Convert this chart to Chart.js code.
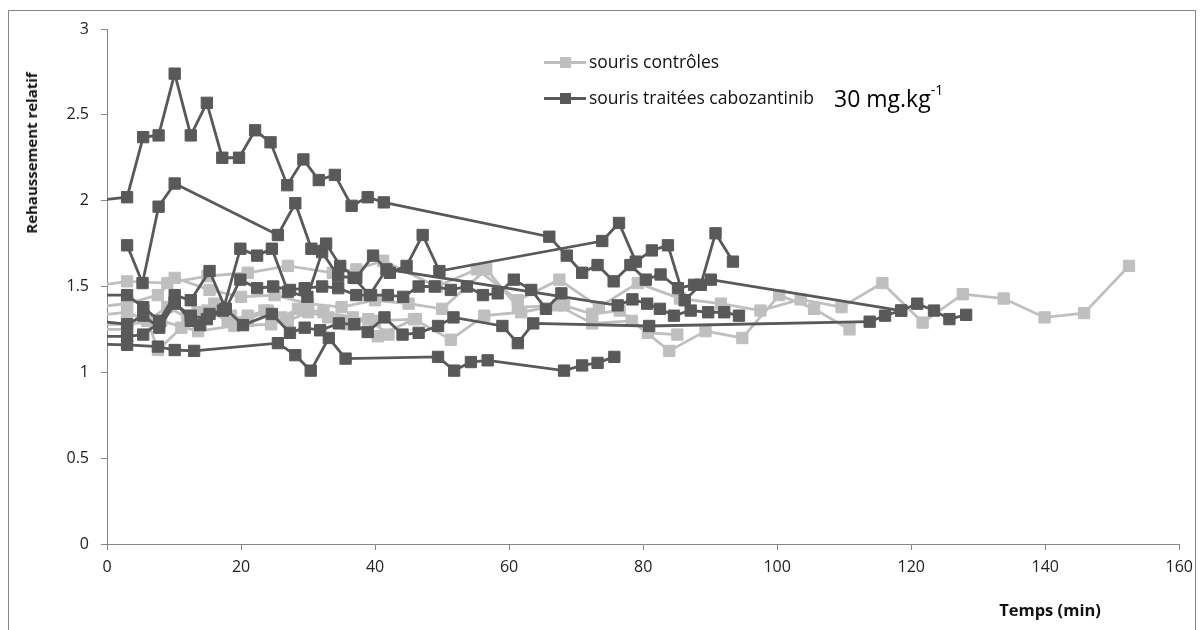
<!DOCTYPE html>
<html><head><meta charset="utf-8">
<script src="https://cdn.jsdelivr.net/npm/chart.js@4.4.1/dist/chart.umd.min.js"></script>
<style>
html,body{margin:0;padding:0;background:#fff;}
#wrap{position:relative;width:1201px;height:630px;overflow:hidden;background:#fff;}
#frame{position:absolute;left:8px;top:10px;width:1188px;height:660px;border:1px solid #868686;box-sizing:border-box;}
#c{position:absolute;left:0;top:0;}
.lg{position:absolute;font-family:"Open Sans",sans-serif;font-size:17.5px;color:#111;white-space:nowrap;line-height:1;}
.lgl{position:absolute;height:3px;width:42px;}
.lgm{position:absolute;width:11px;height:11px;}
#ytitle{position:absolute;left:31px;top:153px;transform:translate(-50%,-50%) rotate(-90deg);font-family:"Open Sans",sans-serif;font-weight:bold;font-size:15px;color:#111;white-space:nowrap;}
#xtitle{position:absolute;left:1050px;top:609px;transform:translate(-50%,-50%);font-family:"Open Sans",sans-serif;font-weight:bold;font-size:16.5px;color:#111;white-space:nowrap;}
#dose{position:absolute;left:834px;top:85px;font-family:"Open Sans",sans-serif;font-size:23px;color:#000;white-space:nowrap;line-height:1.2;}
#dose sup{font-size:14px;vertical-align:top;position:relative;top:-3px;}
</style></head>
<body>
<div id="wrap">
  <div id="frame"></div>
  <canvas id="c" width="1201" height="630"></canvas>
  <div class="lgl" style="left:544px;top:61px;background:#BFBFBF"></div>
  <div class="lgm" style="left:560px;top:57px;background:#BFBFBF"></div>
  <div class="lg" style="left:589px;top:53px;">souris contrôles</div>
  <div class="lgl" style="left:544px;top:97px;background:#595959"></div>
  <div class="lgm" style="left:560px;top:93px;background:#595959"></div>
  <div class="lg" style="left:589px;top:89px;">souris traitées cabozantinib</div>
  <div id="dose">30 mg.kg<sup>-1</sup></div>
  <div id="ytitle">Rehaussement relatif</div>
  <div id="xtitle">Temps (min)</div>
</div>
<script>
// ---- tick labels ----
const xTickLabels = ['0','20','40','60','80','100','120','140','160'];
const yTickLabels = ['0','0.5','1','1.5','2','2.5','3'];

// ---- treated mice (cabozantinib 30 mg/kg) ----
const t_d1 = [-2,3.0,5.4,7.7,10.1,12.5,14.9,17.2,19.7,22.1,24.4,26.9,29.3,31.6,34.0,36.5,38.9,41.3,66.0,68.6,70.9,73.2,75.6,78.1,80.4,82.6,85.2,87.6,90.1,118.5];
const v_d1 = [2.00,2.02,2.37,2.38,2.74,2.38,2.57,2.25,2.25,2.41,2.34,2.09,2.24,2.12,2.15,1.97,2.02,1.99,1.79,1.68,1.58,1.625,1.53,1.625,1.54,1.57,1.49,1.51,1.54,1.36];

const t_d2 = [3.0,5.3,7.7,10.1,25.5,28.1,30.5,32.7,34.8,37.2,39.7,42.2,44.7,47.1,49.6,73.9,76.4,78.9,81.3,83.7,86.2,88.6,90.8,93.4];
const v_d2 = [1.74,1.52,1.965,2.10,1.80,1.985,1.72,1.75,1.62,1.55,1.68,1.58,1.62,1.80,1.59,1.765,1.87,1.645,1.71,1.74,1.42,1.51,1.81,1.645];

const t_d3 = [-2,3.0,5.4,7.8,10.1,12.5,15.3,17.7,19.9,22.4,24.8,27.3,29.5,32.1,34.5,37.2,39.4,41.9,44.2,46.5,48.9,51.3,53.7,56.1,58.3,60.7,63.3,65.5,67.8];
const v_d3 = [1.45,1.45,1.38,1.30,1.45,1.42,1.59,1.37,1.54,1.49,1.50,1.48,1.49,1.50,1.49,1.45,1.45,1.45,1.44,1.50,1.50,1.48,1.50,1.45,1.46,1.54,1.48,1.37,1.46];

const t_d4 = [-2,3.0,5.4,7.8,10.1,12.5,13.9,15.3,17.7,20.3,24.6,27.3,29.5,31.8,34.6,36.9,38.9,41.4,44.1,46.5,49.4,51.7,59.0,61.3,63.6,80.9,113.8,116.1,118.5,120.9,123.4,125.7,128.2];
const v_d4 = [1.21,1.21,1.22,1.29,1.41,1.30,1.275,1.34,1.37,1.275,1.34,1.23,1.26,1.245,1.285,1.28,1.235,1.32,1.22,1.23,1.27,1.32,1.27,1.17,1.285,1.27,1.295,1.33,1.36,1.40,1.36,1.31,1.335];

const t_d5 = [-2,3.0,5.4,7.8,10.1,12.5,14.9,17.3,19.9,22.4,24.6,27.0,29.9,32.1,34.5,36.8,39.2,41.7,76.2,78.4,80.6,82.5,84.6,87.1,89.7,92.1,94.3];
const v_d5 = [1.30,1.28,1.33,1.26,1.40,1.33,1.31,1.36,1.72,1.68,1.72,1.47,1.44,1.70,1.56,1.55,1.45,1.60,1.39,1.425,1.40,1.37,1.33,1.36,1.35,1.35,1.33];

const t_d6 = [-2,3.0,7.6,10.1,13.0,25.5,28.1,30.4,33.1,35.6,49.4,51.8,54.3,56.8,68.2,70.9,73.2,75.7];
const v_d6 = [1.165,1.16,1.15,1.13,1.125,1.17,1.10,1.01,1.20,1.08,1.09,1.01,1.06,1.07,1.01,1.04,1.055,1.09];

// ---- control mice ----
const t_c1 = [-2,3.0,9.0,15.0,21.0,27.0,33.7,37.2,41.2,49.2,55.2,61.3,67.5,73.4,79.2,85.5,91.6,97.5,103.5,109.6,115.7,121.7,127.7,133.8,139.9,145.8,152.5];
const v_c1 = [1.50,1.53,1.52,1.56,1.58,1.62,1.58,1.60,1.65,1.50,1.60,1.42,1.54,1.38,1.52,1.43,1.40,1.36,1.425,1.38,1.52,1.29,1.455,1.43,1.32,1.345,1.62];

const t_c2 = [-2,3.0,8.1,13.6,19.0,24.5,29.4,34.9,40.4,45.8,51.3,56.3,61.8,67.3,72.4,78.3,83.9,89.3,94.8,100.3,105.5,110.8];
const v_c2 = [1.28,1.28,1.30,1.24,1.27,1.28,1.37,1.30,1.21,1.31,1.19,1.33,1.35,1.39,1.285,1.30,1.125,1.24,1.20,1.45,1.37,1.25];

const t_c3 = [-2,3.0,5.5,7.6,11.1,13.5,16.0,18.5,21.0,23.5,26.0,28.5,32.3,36.7,40.0,46.1];
const v_c3 = [1.25,1.25,1.36,1.13,1.26,1.35,1.40,1.33,1.30,1.36,1.32,1.37,1.35,1.32,1.30,1.31];

const t_c4 = [-2,3.0,7.6,10.1,15.3,20.0,25.0,30.0,35.0,40.0,45.0,50.0,56.6,61.3,68.2,72.4,76.5,80.7,85.1];
const v_c4 = [1.38,1.40,1.45,1.55,1.48,1.44,1.45,1.40,1.38,1.42,1.40,1.37,1.60,1.38,1.39,1.34,1.36,1.23,1.22];

const t_c5 = [-2,3.0,6.0,9.0,12.0,15.0,18.0,21.0,24.0,27.0,30.0,33.0,36.0,39.0,42.0];
const v_c5 = [1.33,1.35,1.30,1.38,1.32,1.36,1.30,1.33,1.36,1.30,1.35,1.32,1.28,1.31,1.22];

const DARK = '#595959', LIGHT = '#BFBFBF';
const treated = [[t_d1,v_d1],[t_d2,v_d2],[t_d3,v_d3],[t_d4,v_d4],[t_d5,v_d5],[t_d6,v_d6]];
const controls = [[t_c1,v_c1],[t_c2,v_c2],[t_c3,v_c3],[t_c4,v_c4],[t_c5,v_c5]];

function mk(pair, color, label){
  return {
    label: label,
    data: pair[0].map((t,i)=>({x:t,y:pair[1][i]})),
    borderColor: color, backgroundColor: color,
    pointBackgroundColor: color, pointBorderColor: color,
    borderWidth: 2.8, pointStyle: 'rect', pointRadius: 8, pointBorderWidth: 1,
    tension: 0, clip: 0, spanGaps: true
  };
}
const datasets = [];
treated.forEach((p,i)=>datasets.push(mk(p, DARK, 'souris traitées cabozantinib '+(i+1))));
controls.forEach((p,i)=>datasets.push(mk(p, LIGHT, 'souris contrôles '+(i+1))));

const tickFont = {family:'Open Sans', size:16};
new Chart(document.getElementById('c'), {
  type: 'line',
  data: {datasets},
  options: {
    responsive:false, animation:false,
    layout:{padding:{left:0,right:20,top:29,bottom:0}},
    plugins:{legend:{display:false}, tooltip:{enabled:false}},
    scales:{
      x:{type:'linear', min:0, max:160,
         afterFit(s){s.height=86;},
         ticks:{stepSize:20, padding:8, font:tickFont, color:'#222', maxRotation:0,
                callback:(v,i)=>xTickLabels[i]},
         grid:{drawOnChartArea:false, drawTicks:true, tickLength:6, color:'#868686'},
         border:{color:'#868686', width:1}},
      y:{type:'linear', min:0, max:3,
         afterFit(s){s.width=107;},
         ticks:{stepSize:0.5, padding:12, font:tickFont, color:'#222',
                callback:(v,i)=>yTickLabels[i]},
         grid:{drawOnChartArea:false, drawTicks:true, tickLength:6, color:'#868686'},
         border:{color:'#868686', width:1}}
    }
  }
});
</script>
</body></html>
